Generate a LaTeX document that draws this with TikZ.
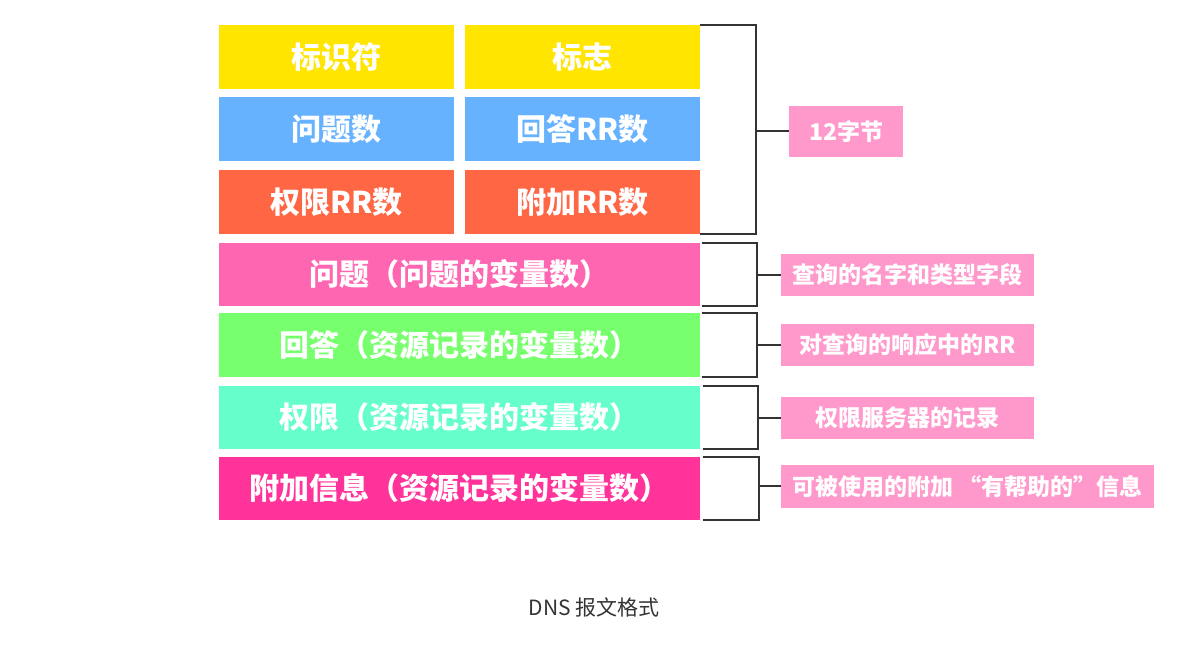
\documentclass[tikz,border=0pt]{standalone}
\usepackage{fontspec}
\newfontfamily\cjk{Noto Sans CJK SC}
\begin{document}
\begin{tikzpicture}[x=1pt,y=-1pt,
  box/.style={rectangle,inner sep=0pt,text=white,font=\cjk\bfseries\fontsize{30}{33}\selectfont},
  lab/.style={rectangle,inner sep=0pt,fill=labpink,text=white,font=\cjk\bfseries\fontsize{23}{26}\selectfont},
  br/.style={draw=brk,line width=2pt}]
\definecolor{cyel}{HTML}{FFE500}
\definecolor{cblu}{HTML}{66B2FF}
\definecolor{cora}{HTML}{FF6644}
\definecolor{cpnk}{HTML}{FF66B2}
\definecolor{cgrn}{HTML}{77FF6E}
\definecolor{ccyn}{HTML}{66FFCC}
\definecolor{cmag}{HTML}{FF3399}
\definecolor{labpink}{HTML}{FF99CC}
\definecolor{brk}{HTML}{333333}
\definecolor{capc}{HTML}{333333}
\useasboundingbox (0,0) rectangle (1188,655);
% header boxes
\node[box,fill=cyel,minimum width=235pt,minimum height=64pt] (r1l) at (336.5,57) {标识符};
\node[box,fill=cyel,minimum width=235pt,minimum height=64pt] (r1r) at (582.5,57) {标志};
\node[box,fill=cblu,minimum width=235pt,minimum height=64pt] (r2l) at (336.5,129) {问题数};
\node[box,fill=cblu,minimum width=235pt,minimum height=64pt] (r2r) at (582.5,129) {回答RR数};
\node[box,fill=cora,minimum width=235pt,minimum height=64pt] (r3l) at (336.5,202) {权限RR数};
\node[box,fill=cora,minimum width=235pt,minimum height=64pt] (r3r) at (582.5,202) {附加RR数};
% variable sections
\node[box,fill=cpnk,minimum width=481pt,minimum height=63pt] (q) at (459.5,274.5) {问题（问题的变量数）};
\node[box,fill=cgrn,minimum width=481pt,minimum height=64pt] (a) at (459.5,345) {回答（资源记录的变量数）};
\node[box,fill=ccyn,minimum width=481pt,minimum height=63pt] (au) at (459.5,417.5) {权限（资源记录的变量数）};
\node[box,fill=cmag,minimum width=481pt,minimum height=63pt] (ad) at (459.5,488.5) {附加信息（资源记录的变量数）};
% labels
\node[lab,minimum width=114pt,minimum height=51pt] (l1) at (846,131.5) {12字节};
\node[lab,minimum width=253pt,minimum height=42pt] (l2) at (907.5,275) {查询的名字和类型字段};
\node[lab,minimum width=253pt,minimum height=42pt] (l3) at (907.5,345) {对查询的响应中的RR};
\node[lab,minimum width=253pt,minimum height=42pt] (l4) at (907.5,418) {权限服务器的记录};
\node[lab,minimum width=373pt,minimum height=43pt] (l5) at (967.5,486.3) {可被使用的附加 “有帮助的”信息};
% bracket columns
\coordinate (b1) at (756,0);
\coordinate (b2) at (757,0);
\coordinate (b3) at (757,0);
\coordinate (b4) at (758,0);
\coordinate (b5) at (759,0);
% brackets
\draw[br] (r1r.north east) -- (r1r.north east -| b1) -- (r3r.south east -| b1) -- (r3r.south east);
\draw[br] (l1.west -| b1) -- (l1.west);
\draw[br] ([xshift=2pt]q.north east) -- (q.north east -| b2) -- (q.south east -| b2) -- ([xshift=2pt]q.south east);
\draw[br] (l2.west -| b2) -- (l2.west);
\draw[br] ([xshift=2pt]a.north east) -- (a.north east -| b3) -- (a.south east -| b3) -- ([xshift=2pt]a.south east);
\draw[br] (l3.west -| b3) -- (l3.west);
\draw[br] ([xshift=3pt]au.north east) -- (au.north east -| b4) -- (au.south east -| b4) -- ([xshift=3pt]au.south east);
\draw[br] (l4.west -| b4) -- (l4.west);
\draw[br] ([xshift=3pt]ad.north east) -- (ad.north east -| b5) -- (ad.south east -| b5) -- ([xshift=3pt]ad.south east);
\draw[br] (l5.west -| b5) -- (l5.west);
% caption
\node[text=capc,font=\cjk\fontsize{21}{24}\selectfont] (cap) at (594,607) {DNS 报文格式};
\end{tikzpicture}
\end{document}
